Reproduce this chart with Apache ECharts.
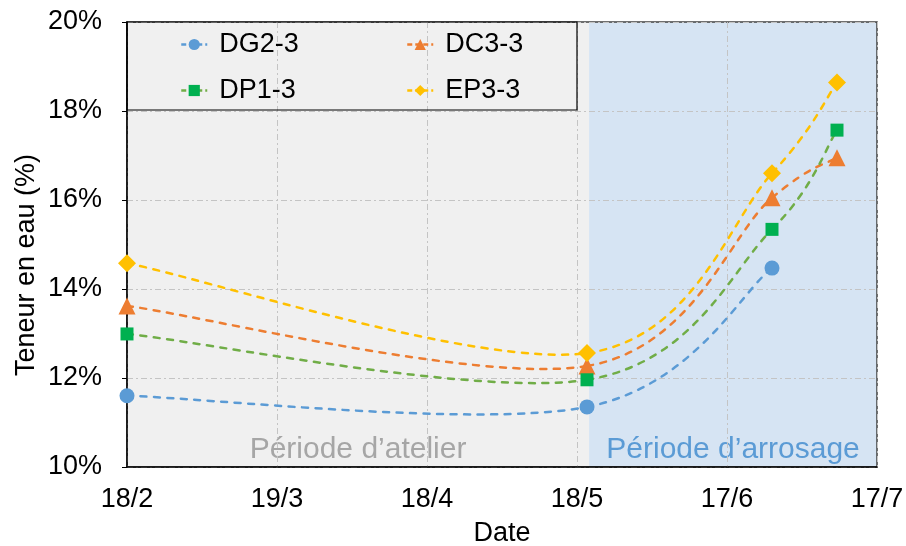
<!DOCTYPE html>
<html>
<head>
<meta charset="utf-8">
<script src="https://cdn.jsdelivr.net/npm/echarts@6/dist/echarts.min.js"></script>
<style>html,body{margin:0;padding:0;background:#fff;}#c{width:906px;height:546px;}</style>
</head>
<body>
<div id="c"></div>
<script>
// ---- data ----
const startDate = '2020-02-18';
const sampleDates = ['2020-02-18', '2020-05-20', '2020-06-26', '2020-07-09'];
const dg23 = [11.60, 11.35, 14.47, null];
const dc33 = [13.62, 12.27, 16.05, 16.95];
const dp13 = [12.99, 11.96, 15.34, 17.57];
const ep33 = [14.58, 12.56, 16.60, 18.64];
const seriesNames = ['DG2-3', 'DC3-3', 'DP1-3', 'EP3-3'];
const xTickLabels = ['18/2', '19/3', '18/4', '18/5', '17/6', '17/7'];
const yTickLabels = ['10%', '12%', '14%', '16%', '18%', '20%'];
const periodSplitDate = '2020-05-20T10:00';
const periodEndDate = '2020-07-17';
const periodNames = ['Période d\u2019atelier', 'Période d\u2019arrosage'];

const DAY = 86400000;
const t0 = Date.parse(startDate + 'T00:00Z');
const toDay = s => (Date.parse(s.length > 10 ? s + 'Z' : s + 'T00:00Z') - t0) / DAY;
const xs = sampleDates.map(toDay);
const pts = arr => arr.map((v, i) => v == null ? null : [xs[i], v]).filter(p => p);
const FONT = 'Liberation Sans, Arial, sans-serif';
const DASH = [6, 7.5];

// Excel-style smoothed curve: cubic Bezier through the points (coords from the axis scales)
function curve(values, color) {
  const data = pts(values);
  return {
    type: 'custom', data: data, encode: {x: 0, y: 1}, z: 2, silent: true, clip: true,
    renderItem: function (params, api) {
      const i = params.dataIndex;
      if (i >= data.length - 1) return null;
      const P = k => api.coord(data[Math.max(0, Math.min(data.length - 1, k))]);
      const p0 = P(i - 1), p1 = P(i), p2 = P(i + 1), p3 = P(i + 2);
      return {
        type: 'bezierCurve',
        shape: {
          x1: p1[0], y1: p1[1], x2: p2[0], y2: p2[1],
          cpx1: p1[0] + (p2[0] - p0[0]) / 6, cpy1: p1[1] + (p2[1] - p0[1]) / 6,
          cpx2: p2[0] - (p3[0] - p1[0]) / 6, cpy2: p2[1] - (p3[1] - p1[1]) / 6
        },
        style: {fill: null, stroke: color, lineWidth: 2.5, lineDash: DASH, lineCap: 'round'}
      };
    }
  };
}
function markers(name, values, symbol, size, color) {
  return {type: 'line', name: name, data: pts(values), symbol: symbol, symbolSize: size, z: 3,
    itemStyle: {color: color}, lineStyle: {opacity: 0, width: 0}};
}
const lineColors = ['#5b9bd5', '#ed7d31', '#70ad47', '#ffc000'];
const legendItem = (idx) => ({name: seriesNames[idx],
  lineStyle: {color: lineColors[idx], width: 2.5, type: [5, 3], opacity: 1}});

const chart = echarts.init(document.getElementById('c'), null, {renderer: 'canvas'});
const legendBase = {
  orient: 'vertical', top: 31, itemWidth: 26, itemHeight: 14, itemGap: 19, padding: 0,
  textStyle: {fontSize: 27, fontFamily: FONT, color: '#000', padding: [0, 0, 0, 7]}
};
chart.setOption({
  animation: false,
  grid: {left: 127, right: 29, top: 22, bottom: 79, outerBoundsMode: 'none', containLabel: false,
    show: true, borderColor: '#404040', borderWidth: 1.5, backgroundColor: 'transparent'},
  legend: [
    Object.assign({}, legendBase, {left: 180, data: [legendItem(0), legendItem(2)]}),
    Object.assign({}, legendBase, {left: 406, data: [legendItem(1), legendItem(3)]})
  ],
  graphic: [
    {type: 'rect', z: 50, shape: {x: 127, y: 22, width: 450, height: 88}, style: {fill: 'none', stroke: '#000', lineWidth: 1.2}},
    {type: 'text', z: 50, x: 27, y: 265, rotation: Math.PI / 2,
     style: {text: 'Teneur en eau (%)', font: '27px ' + FONT, fill: '#000', textAlign: 'center', textVerticalAlign: 'middle'}}
  ],
  xAxis: {
    type: 'value', min: 0, max: 150, interval: 30,
    name: 'Date', nameLocation: 'middle', nameGap: 53,
    nameTextStyle: {fontSize: 27, fontFamily: FONT, color: '#000'},
    axisLine: {lineStyle: {color: '#000', width: 1.5}},
    axisTick: {show: false},
    axisLabel: {fontSize: 27, fontFamily: FONT, color: '#000', margin: 19,
      formatter: v => xTickLabels[Math.round(v / 30)]},
    splitLine: {show: true, lineStyle: {color: '#c4c4c4', width: 1, type: [6, 3, 2, 3]}}
  },
  yAxis: {
    type: 'value', min: 10, max: 20, interval: 2,
    axisLine: {show: true, lineStyle: {color: '#000', width: 1.5}},
    axisTick: {show: true, length: 5, lineStyle: {color: '#000'}},
    axisLabel: {fontSize: 27, fontFamily: FONT, color: '#000', margin: 25,
      formatter: v => yTickLabels[Math.round((v - 10) / 2)]},
    splitLine: {show: true, lineStyle: {color: '#c4c4c4', width: 1, type: [6, 3, 2, 3]}}
  },
  series: [
    {type: 'line', name: '_areas', data: [], z: -1, silent: true,
     markArea: {silent: true, z: -5, data: [
       [{xAxis: 0, itemStyle: {color: '#f0f0f0'},
         label: {show: true, position: 'insideBottom', distance: 2, formatter: periodNames[0], fontSize: 30, fontFamily: FONT, color: '#a6a6a6'}},
        {xAxis: toDay(periodSplitDate)}],
       [{xAxis: toDay(periodSplitDate), itemStyle: {color: '#d6e4f3'},
         label: {show: true, position: 'insideBottom', distance: 2, formatter: periodNames[1], fontSize: 30, fontFamily: FONT, color: '#5b9bd5'}},
        {xAxis: toDay(periodEndDate)}]
     ]}},
    curve(dg23, lineColors[0]),
    curve(dc33, lineColors[1]),
    curve(dp13, lineColors[2]),
    curve(ep33, lineColors[3]),
    markers(seriesNames[0], dg23, 'circle', 15, '#5b9bd5'),
    markers(seriesNames[1], dc33, 'triangle', 17, '#ed7d31'),
    markers(seriesNames[2], dp13, 'rect', 13, '#00b050'),
    markers(seriesNames[3], ep33, 'diamond', 18, '#ffc000')
  ]
});
</script>
</body>
</html>
